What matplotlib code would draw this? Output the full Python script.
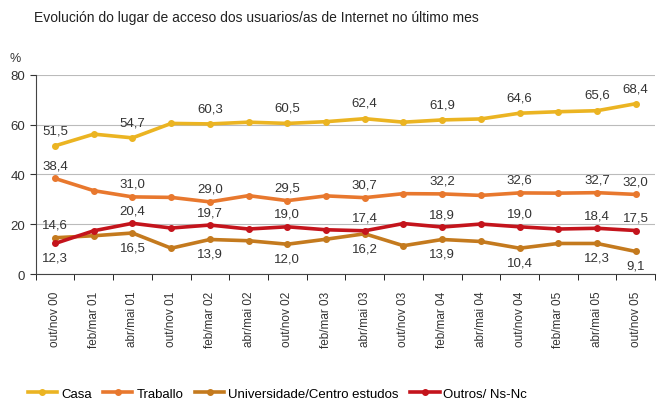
import matplotlib.pyplot as plt
import numpy as np

plt.rcParams['font.family'] = ['Liberation Sans', 'DejaVu Sans']

# datos
periodos = ['out/nov 00', 'feb/mar 01', 'abr/mai 01', 'out/nov 01', 'feb/mar 02',
            'abr/mai 02', 'out/nov 02', 'feb/mar 03', 'abr/mai 03', 'out/nov 03',
            'feb/mar 04', 'abr/mai 04', 'out/nov 04', 'feb/mar 05', 'abr/mai 05',
            'out/nov 05']
casa = [51.5, 56.2, 54.7, 60.5, 60.3, 61.0, 60.5, 61.2, 62.4, 61.0, 61.9, 62.3, 64.6, 65.2, 65.6, 68.4]
traballo = [38.4, 33.5, 31.0, 30.8, 29.0, 31.5, 29.5, 31.4, 30.7, 32.3, 32.2, 31.6, 32.6, 32.5, 32.7, 32.0]
universidade = [14.6, 15.4, 16.5, 10.4, 13.9, 13.4, 12.0, 14.0, 16.2, 11.4, 13.9, 13.1, 10.4, 12.3, 12.3, 9.1]
outros = [12.3, 17.4, 20.4, 18.5, 19.7, 18.1, 19.0, 17.8, 17.4, 20.3, 18.9, 20.1, 19.0, 18.1, 18.4, 17.5]

idx_lab = [0, 2, 4, 6, 8, 10, 12, 14, 15]

series = [
    ('Casa', casa, '#EBB422'),
    ('Traballo', traballo, '#E8782E'),
    ('Universidade/Centro estudos', universidade, '#C47A1E'),
    ('Outros/ Ns-Nc', outros, '#C4141C'),
]

fig = plt.figure(figsize=(6.61, 4.10), dpi=100)
ax = fig.add_axes([0.054, 0.329, 0.937, 0.486])

x = np.arange(len(periodos))
for nome, vals, cor in series:
    ax.plot(x, vals, color=cor, lw=2.6, marker='o', ms=4, label=nome)

def fmt(v):
    return ('%.1f' % v).replace('.', ',')

# etiquetas de valores
for i in idx_lab:
    ax.annotate(fmt(casa[i]), (x[i], casa[i]), xytext=(0, 7), textcoords='offset points',
                ha='center', va='bottom', fontsize=9.5, color='#333333')
    ax.annotate(fmt(traballo[i]), (x[i], traballo[i]), xytext=(0, 5), textcoords='offset points',
                ha='center', va='bottom', fontsize=9.5, color='#333333')
    if i == 0:
        ax.annotate(fmt(universidade[i]), (x[i], universidade[i]), xytext=(0, 5), textcoords='offset points',
                    ha='center', va='bottom', fontsize=9.5, color='#333333')
        ax.annotate(fmt(outros[i]), (x[i], outros[i]), xytext=(0, -6), textcoords='offset points',
                    ha='center', va='top', fontsize=9.5, color='#333333')
    else:
        ax.annotate(fmt(outros[i]), (x[i], outros[i]), xytext=(0, 5), textcoords='offset points',
                    ha='center', va='bottom', fontsize=9.5, color='#333333')
        ax.annotate(fmt(universidade[i]), (x[i], universidade[i]), xytext=(0, -6), textcoords='offset points',
                    ha='center', va='top', fontsize=9.5, color='#333333')

ax.set_xlim(-0.5, len(periodos) - 0.5)
ax.set_ylim(0, 80)
ax.set_yticks([0, 20, 40, 60, 80])
ax.tick_params(axis='y', labelsize=9.5, colors='#333333', length=4)
ax.set_xticks(x)
ax.set_xticklabels(periodos, rotation=90, fontsize=8.5, color='#333333')
ax.tick_params(axis='x', length=0, pad=12)
ax.set_xticks(np.arange(-0.5, len(periodos)), minor=True)
ax.tick_params(axis='x', which='minor', length=4)
ax.grid(axis='y', color='#bbbbbb', lw=0.8)
ax.set_axisbelow(True)
for s in ['top', 'right']:
    ax.spines[s].set_visible(False)
ax.spines['left'].set_color('#444444')
ax.spines['bottom'].set_color('#444444')

fig.text(0.015, 0.855, '%', fontsize=9, color='#333333', va='center')
fig.text(0.388, 0.955, 'Evolución do lugar de acceso dos usuarios/as de Internet no último mes',
         ha='center', va='center', fontsize=10, color='#222222')

fig.legend(loc='center', bbox_to_anchor=(0.42, 0.037), ncol=4, frameon=False, fontsize=9.5,
           handlelength=2.2, columnspacing=0.9, handletextpad=0.3)

fig.savefig('out.png', dpi=100)
